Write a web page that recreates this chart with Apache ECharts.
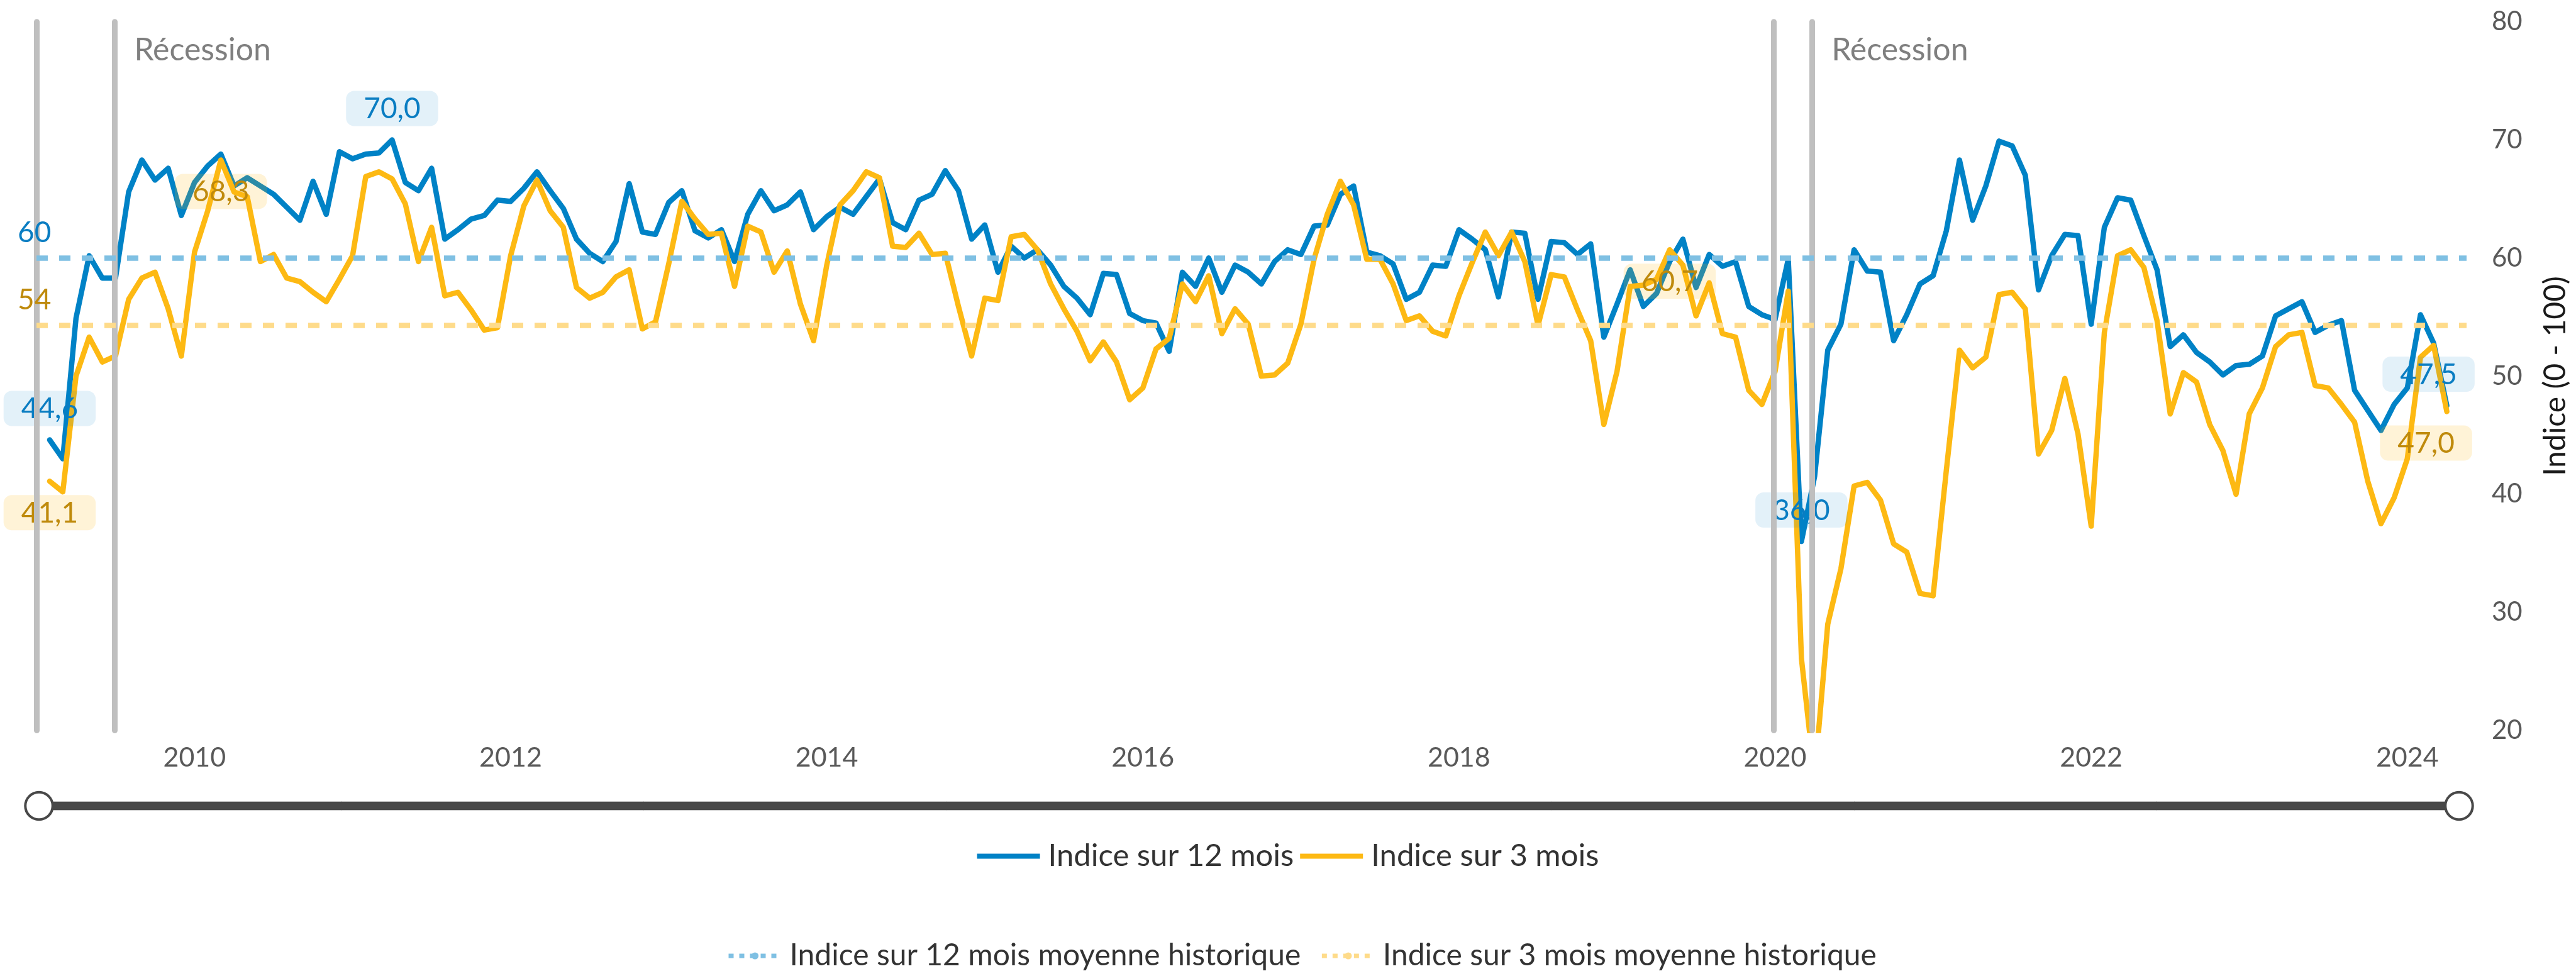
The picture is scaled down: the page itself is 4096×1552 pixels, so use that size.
<!DOCTYPE html>
<html><head><meta charset="utf-8">
<script src="https://cdn.jsdelivr.net/npm/echarts@6/dist/echarts.min.js"></script>
<style>html,body{margin:0;padding:0;background:#fff}#c{width:4096px;height:1552px}</style>
</head><body><div id="c"></div>
<script>
// month index 0 = January 2009; first observation = February 2009 (index 1)
const startYear = 2009;
const firstIndex = 1;
const axisMaxIndex = 184.5;

const index12 = [
 44.6,43.0,54.9,60.2,58.3,58.3,65.6,68.3,66.6,67.6,
 63.6,66.4,67.8,68.8,66.1,66.8,66.1,65.4,64.3,63.2,
 66.5,63.7,69.0,68.4,68.8,68.9,70.0,66.4,65.7,67.6,
 61.6,62.4,63.3,63.6,64.9,64.8,65.9,67.3,65.7,64.2,
 61.6,60.4,59.7,61.4,66.3,62.2,62.0,64.7,65.7,62.3,
 61.7,62.4,59.7,63.7,65.7,64.0,64.5,65.6,62.4,63.5,
 64.3,63.7,65.2,66.7,63.0,62.4,64.9,65.4,67.4,65.7,
 61.6,62.8,58.8,61.0,60.0,60.7,59.4,57.6,56.6,55.2,
 58.7,58.6,55.3,54.7,54.5,52.1,58.8,57.6,60.0,57.1,
 59.4,58.8,57.8,59.7,60.7,60.3,62.7,62.8,65.4,66.1,
 60.5,60.2,59.5,56.5,57.1,59.4,59.3,62.4,61.6,60.7,
 56.7,62.2,62.1,56.5,61.4,61.3,60.3,61.2,53.3,56.1,
 59.0,55.9,57.0,59.7,61.6,57.5,60.3,59.3,59.7,55.9,
 55.2,54.8,59.9,36.0,41.5,52.2,54.4,60.7,58.9,58.8,
 53.0,55.2,57.8,58.5,62.3,68.3,63.2,66.1,69.9,69.5,
 67.0,57.3,60.2,62.0,61.9,54.4,62.6,65.1,64.9,61.9,
 59.0,52.5,53.5,52.0,51.2,50.1,50.9,51.0,51.7,55.1,
 55.7,56.3,53.7,54.3,54.7,48.8,47.1,45.4,47.6,49.0,
 55.2,52.8,47.5
];
const index3 = [
 41.1,40.2,50.0,53.3,51.2,51.7,56.5,58.3,58.8,55.7,
 51.7,60.5,64.0,68.3,65.6,65.2,59.7,60.3,58.3,58.0,
 57.1,56.3,58.2,60.2,66.9,67.3,66.7,64.6,59.7,62.6,
 56.8,57.1,55.6,53.9,54.1,60.2,64.4,66.6,64.0,62.6,
 57.5,56.6,57.1,58.4,59.0,54.0,54.6,59.5,64.8,63.3,
 62.0,62.1,57.6,62.7,62.2,58.8,60.6,56.1,53.0,59.4,
 64.5,65.7,67.3,66.8,61.0,60.9,62.1,60.3,60.4,55.9,
 51.7,56.6,56.4,61.8,62.0,60.7,57.8,55.7,53.8,51.3,
 52.9,51.2,48.0,49.0,52.3,53.2,57.8,56.3,58.5,53.6,
 55.7,54.4,50.0,50.1,51.1,54.4,59.9,63.7,66.5,64.5,
 59.9,59.9,57.8,54.7,55.1,53.8,53.4,56.8,59.6,62.2,
 60.2,62.2,59.7,54.3,58.6,58.4,55.6,53.0,45.9,50.4,
 57.6,57.7,58.2,60.7,59.4,55.1,57.9,53.6,53.3,48.8,
 47.6,50.4,57.2,26.1,16.0,29.0,33.7,40.7,41.0,39.5,
 35.8,35.1,31.6,31.4,42.0,52.2,50.7,51.6,56.9,57.1,
 55.7,43.4,45.4,49.8,45.1,37.3,53.7,60.2,60.7,59.2,
 54.7,46.8,50.3,49.5,45.9,43.7,40.0,46.8,49.0,52.5,
 53.5,53.7,49.2,49.0,47.6,46.1,41.1,37.5,39.7,43.0,
 51.6,52.6,47.0
];
const mean12 = 60.0;
const mean3 = 54.3;
// recession periods in month index (0 = Jan 2009)
const recessions = [[0, 5.94], [131.9, 134.8]];
const yearLabels = [2010, 2012, 2014, 2016, 2018, 2020, 2022, 2024];
// labelled points: month index -> label side
const labels12 = {1: 'top', 27: 'top', 134: 'top', 183: 'top'};
const labels3 = {1: 'bottom', 14: 'bottom', 124: 'bottom', 183: 'bottom'};

const FONT = 'Lato';
const BLUE = '#0082c6', ORANGE = '#fdb913';
const BLUE_D = '#7fc0e3', ORANGE_D = '#fedb8a';

function fmt(v){ return v.toFixed(1).replace('.', ','); }

function build(values, lab, isBlue){
  return values.map((v, i) => {
    const m = firstIndex + i;
    if (lab[m]) {
      const last = m === firstIndex + values.length - 1;
      return {value: [m, v], label: {
        show: true, position: lab[m], distance: 22,
        offset: last ? [isBlue ? -29 : -33, 0] : [0, 0],
        formatter: p => fmt(p.value[1]),
        fontFamily: FONT, fontSize: 46,
        color: isBlue ? '#0a7dc2' : '#bf8a0c',
        backgroundColor: isBlue ? 'rgba(0,130,198,0.11)' : 'rgba(253,185,19,0.17)',
        borderRadius: 13, padding: [6, 28, 4, 28]
      }};
    }
    return [m, v];
  });
}

const chart = echarts.init(document.getElementById('c'), null, {renderer: 'canvas'});
chart.setOption({
  animation: false,
  backgroundColor: '#fff',
  grid: {left: 58, right: 153.3, top: 34.7, bottom: 390.5, containLabel: false},
  xAxis: {
    type: 'value', min: 0, max: axisMaxIndex, interval: 12,
    axisLine: {show: false}, axisTick: {show: false}, splitLine: {show: false},
    axisLabel: {
      margin: 22, fontFamily: FONT, fontSize: 43, color: '#595959',
      formatter: v => {
        if (v % 12 !== 0) return '';
        const y = startYear + v / 12;
        return yearLabels.includes(y) ? String(y) : '';
      }
    }
  },
  yAxis: {
    type: 'value', position: 'right', min: 20, max: 80, interval: 10,
    axisLine: {show: false}, axisTick: {show: false}, splitLine: {show: false},
    axisLabel: {margin: 40, fontFamily: FONT, fontSize: 42, color: '#595959'},
    name: 'Indice (0 - 100)', nameLocation: 'middle', nameGap: 118, nameRotate: 90,
    nameTextStyle: {fontFamily: FONT, fontSize: 48, color: '#1a1a1a'}
  },
  dataZoom: [{
    type: 'slider', xAxisIndex: 0, start: 0, end: 100, filterMode: 'none',
    left: 58, right: 188, top: 1274, height: 15,
    showDataShadow: false, showDetail: false, brushSelect: false,
    backgroundColor: 'transparent', borderColor: '#c4c4c4', borderRadius: 0,
    fillerColor: '#484848',
    dataBackground: {lineStyle: {opacity: 0}, areaStyle: {opacity: 0}},
    selectedDataBackground: {lineStyle: {opacity: 0}, areaStyle: {opacity: 0}},
    handleIcon: 'circle', handleSize: '290%',
    handleStyle: {color: '#ffffff', borderColor: '#484848', borderWidth: 4},
    moveHandleSize: 0,
    emphasis: {handleStyle: {color: '#ffffff', borderColor: '#484848', borderWidth: 4}}
  }],
  legend: [
    {data: ['Indice sur 12 mois', 'Indice sur 3 mois'], top: 1332, left: 'center',
     icon: 'rect', itemWidth: 100, itemHeight: 8, itemGap: 10,
     textStyle: {fontFamily: FONT, fontSize: 49, color: '#333', padding: [0, 0, 0, 8]}},
    {data: ['Indice sur 12 mois moyenne historique', 'Indice sur 3 mois moyenne historique'],
     top: 1491, left: 1150, itemWidth: 84, itemHeight: 14, itemGap: 30,
     lineStyle: {width: 7, type: [8, 9]},
     textStyle: {fontFamily: FONT, fontSize: 48, color: '#333', padding: [0, 0, 0, 8]}}
  ],
  series: [
    {
      name: 'recession', type: 'line', data: [], z: 1, silent: true,
      markLine: {
        silent: true, symbol: ['none', 'none'],
        lineStyle: {color: '#bfbfbf', width: 9, type: 'solid', cap: 'round'},
        label: {show: false},
        data: recessions.flat().map(v => ({xAxis: v}))
      },
      markArea: {
        silent: true, itemStyle: {color: 'rgba(0,0,0,0)'},
        label: {show: true, position: ['100%', 45], align: 'left', verticalAlign: 'middle',
          padding: [0, 0, 0, 31], fontFamily: FONT, fontSize: 50, color: '#7f7f7f',
          formatter: 'Récession'},
        data: recessions.map(r => [{xAxis: r[0]}, {xAxis: r[1]}])
      }
    },
    {
      name: 'Indice sur 12 mois moyenne historique', type: 'line', data: [], z: 2,
      symbol: 'none', color: BLUE_D,
      lineStyle: {color: BLUE_D, width: 8.5, type: [18, 18]},
      markLine: {
        silent: true, symbol: ['none', 'none'],
        lineStyle: {color: BLUE_D, width: 8.5, type: [18, 18]},
        label: {show: true, position: 'insideStartTop', distance: [-30, 17],
          formatter: () => String(Math.round(mean12)),
          fontFamily: FONT, fontSize: 46, color: '#0a7dc2'},
        data: [{yAxis: mean12}]
      }
    },
    {
      name: 'Indice sur 3 mois moyenne historique', type: 'line', data: [], z: 2,
      symbol: 'none', color: ORANGE_D,
      lineStyle: {color: ORANGE_D, width: 8.5, type: [18, 18]},
      markLine: {
        silent: true, symbol: ['none', 'none'],
        lineStyle: {color: ORANGE_D, width: 8.5, type: [18, 18]},
        label: {show: true, position: 'insideStartTop', distance: [-30, 17],
          formatter: () => String(Math.round(mean3)),
          fontFamily: FONT, fontSize: 46, color: '#bf8a0c'},
        data: [{yAxis: mean3}]
      }
    },
    {
      name: 'Indice sur 12 mois', type: 'line', z: 3, color: BLUE,
      symbol: 'circle', symbolSize: 0, showSymbol: true,
      lineStyle: {color: BLUE, width: 8.5, cap: 'round', join: 'round'},
      data: build(index12, labels12, true)
    },
    {
      name: 'Indice sur 3 mois', type: 'line', z: 3, color: ORANGE,
      symbol: 'circle', symbolSize: 0, showSymbol: true,
      lineStyle: {color: ORANGE, width: 8.5, cap: 'round', join: 'round'},
      data: build(index3, labels3, false)
    }
  ]
});
</script></body></html>
